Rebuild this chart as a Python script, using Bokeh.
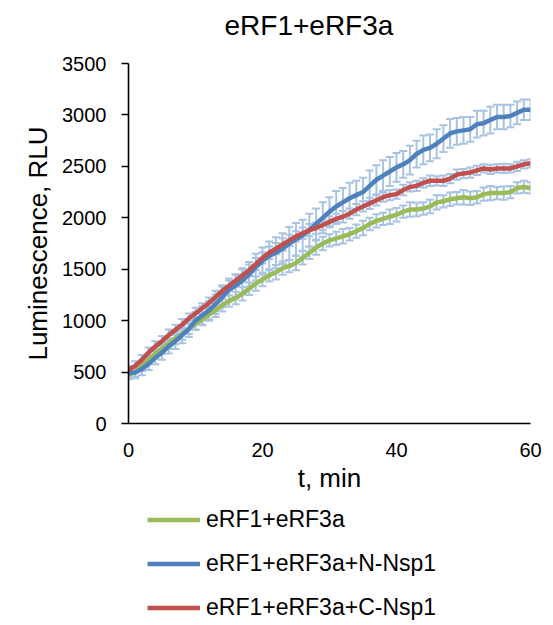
from bokeh.plotting import figure
from bokeh.layouts import column
from bokeh.models import (ColumnDataSource, Whisker, TeeHead, Legend, LegendItem,
                          Range1d, FixedTicker)
from bokeh.embed import file_html
from bokeh.resources import INLINE

# ---- data ----
t_min = list(range(0, 61))

erf_only = [470, 500, 560, 620, 680, 730, 780, 830, 870, 920,
            970, 1010, 1060, 1100, 1150, 1190, 1220, 1260, 1310, 1360,
            1400, 1440, 1470, 1510, 1530, 1560, 1610, 1660, 1710, 1750,
            1780, 1800, 1820, 1840, 1870, 1900, 1940, 1970, 1990, 2010,
            2030, 2060, 2080, 2080, 2090, 2110, 2150, 2160, 2180, 2190,
            2200, 2190, 2200, 2230, 2240, 2240, 2240, 2250, 2290, 2300,
            2290]

erf_n_nsp1 = [490, 495, 530, 580, 640, 690, 750, 800, 860, 920,
              1000, 1050, 1100, 1160, 1230, 1300, 1340, 1390, 1450, 1520,
              1580, 1630, 1660, 1700, 1750, 1790, 1830, 1880, 1940, 2000,
              2060, 2110, 2150, 2190, 2220, 2250, 2310, 2370, 2410, 2450,
              2490, 2520, 2560, 2620, 2660, 2680, 2720, 2770, 2820, 2840,
              2850, 2860, 2910, 2920, 2950, 2980, 2980, 2990, 3020, 3050,
              3050]

erf_c_nsp1 = [520, 560, 620, 690, 750, 800, 860, 910, 960, 1020,
              1070, 1120, 1170, 1230, 1290, 1340, 1390, 1440, 1490, 1550,
              1610, 1660, 1700, 1740, 1780, 1820, 1850, 1880, 1900, 1930,
              1960, 1990, 2010, 2040, 2080, 2110, 2140, 2170, 2200, 2220,
              2230, 2270, 2300, 2310, 2340, 2360, 2360, 2360, 2380, 2420,
              2430, 2440, 2460, 2480, 2470, 2480, 2480, 2480, 2500, 2520,
              2530]

err_erf_only = [40, 45, 50, 45, 50, 55, 50, 60, 55, 50,
                60, 55, 60, 65, 60, 55, 60, 65, 60, 70,
                65, 60, 70, 65, 60, 70, 65, 60, 70, 65,
                60, 65, 70, 60, 65, 70, 60, 65, 60, 70,
                65, 60, 70, 65, 60, 65, 70, 60, 65, 60,
                70, 65, 60, 65, 70, 60, 65, 60, 55, 60,
                55]

err_n_nsp1 = [50, 55, 60, 60, 65, 70, 70, 75, 80, 80,
              85, 90, 90, 95, 100, 110, 110, 120, 120, 130,
              130, 140, 150, 150, 160, 160, 150, 160, 150, 150,
              140, 150, 140, 150, 140, 140, 150, 140, 150, 140,
              140, 130, 140, 130, 140, 130, 140, 130, 140, 130,
              130, 120, 130, 120, 130, 120, 120, 110, 110, 100,
              100]

err_c_nsp1 = [40, 45, 45, 50, 50, 50, 55, 50, 55, 50,
              55, 50, 55, 60, 55, 50, 55, 60, 55, 60,
              55, 60, 55, 60, 55, 50, 55, 60, 55, 50,
              55, 50, 55, 50, 55, 50, 55, 50, 45, 50,
              45, 50, 45, 50, 45, 50, 45, 50, 45, 50,
              45, 50, 45, 40, 45, 40, 45, 40, 45, 40,
              40]

series_names = ["eRF1+eRF3a", "eRF1+eRF3a+N-Nsp1", "eRF1+eRF3a+C-Nsp1"]
series_vals = [erf_only, erf_n_nsp1, erf_c_nsp1]
series_errs = [err_erf_only, err_n_nsp1, err_c_nsp1]
series_colors = ["#9bbb59", "#4f81bd", "#c0504d"]
err_color = "#a9c3e4"

y_ticks = [0, 500, 1000, 1500, 2000, 2500, 3000, 3500]
x_ticks = [0, 20, 40, 60]

FONT = "Liberation Sans"
TITLE_H = 50
MAIN_H = 497 - TITLE_H
LEG_H = 625 - TITLE_H - MAIN_H


def bare(fig):
    fig.outline_line_color = None
    fig.xgrid.grid_line_color = None
    fig.ygrid.grid_line_color = None
    fig.background_fill_color = "white"
    fig.border_fill_color = "white"


# ---- title strip ----
pt = figure(width=553, height=TITLE_H, output_backend="svg", toolbar_location=None,
            x_range=Range1d(0, 1), y_range=Range1d(0, 1),
            x_axis_location=None, y_axis_location=None,
            min_border_left=128, min_border_right=23, min_border_top=0,
            min_border_bottom=0, title="eRF1+eRF3a")
bare(pt)
pt.title.text_font = FONT
pt.title.text_font_size = "28px"
pt.title.text_font_style = "normal"
pt.title.align = "left"
pt.title.offset = 96
pt.title.standoff = 14
pt.title.text_color = "black"

# ---- main chart ----
p = figure(width=553, height=MAIN_H, output_backend="svg", toolbar_location=None,
           x_range=Range1d(0, 60), y_range=Range1d(0, 3500),
           min_border_left=128, min_border_right=23, min_border_top=63 - TITLE_H,
           min_border_bottom=497 - 423,
           x_axis_label="t, min", y_axis_label="Luminescence, RLU")
bare(p)

for ax in (p.xaxis[0], p.yaxis[0]):
    ax.axis_line_color = "black"
    ax.axis_line_width = 1.6
    ax.major_tick_line_color = "black"
    ax.major_tick_line_width = 1.6
    ax.minor_tick_line_color = None
    ax.major_label_text_font = FONT
    ax.major_label_text_font_size = "20px"
    ax.major_label_text_color = "black"
    ax.axis_label_text_font = FONT
    ax.axis_label_text_font_size = "26px"
    ax.axis_label_text_font_style = "normal"
    ax.axis_label_text_color = "black"

p.xaxis.ticker = FixedTicker(ticks=x_ticks)
p.yaxis.ticker = FixedTicker(ticks=y_ticks)
p.xaxis.major_tick_out = 0
p.xaxis.major_tick_in = 0
p.xaxis.major_label_standoff = 19
p.xaxis.axis_label_standoff = 3
p.yaxis.major_tick_out = 7
p.yaxis.major_tick_in = 0
p.yaxis.major_label_standoff = 15
p.yaxis.axis_label_standoff = 6

# error bars first (behind lines)
for vals, errs in zip(series_vals, series_errs):
    src = ColumnDataSource(dict(
        t=t_min,
        upper=[v + e for v, e in zip(vals, errs)],
        lower=[v - e for v, e in zip(vals, errs)],
    ))
    w = Whisker(source=src, base="t", upper="upper", lower="lower",
                line_color=err_color, line_width=2,
                upper_head=TeeHead(size=8, line_color=err_color, line_width=2),
                lower_head=TeeHead(size=8, line_color=err_color, line_width=2))
    p.add_layout(w)

for vals, col in zip(series_vals, series_colors):
    src = ColumnDataSource(dict(t=t_min, v=vals))
    p.line("t", "v", source=src, line_color=col, line_width=4.5,
           line_join="round")

# ---- legend strip below the chart ----
p2 = figure(width=553, height=LEG_H, output_backend="svg", toolbar_location=None,
            x_range=Range1d(0, 1), y_range=Range1d(0, 1),
            x_axis_location=None, y_axis_location=None,
            min_border=0, min_border_left=0, min_border_right=0,
            min_border_top=0, min_border_bottom=0)
bare(p2)

items = []
for name, vals, col in zip(series_names, series_vals, series_colors):
    # same series; it lies outside this strip's range, only its legend swatch shows
    r = p2.line(t_min, vals, line_color=col, line_width=4.5)
    items.append(LegendItem(label=name, renderers=[r]))

legend = Legend(items=items, location=(19, 4), orientation="vertical")
legend.border_line_color = None
legend.background_fill_alpha = 0
legend.padding = 0
legend.margin = 0
legend.spacing = 17
legend.glyph_width = 53
legend.glyph_height = 27
legend.label_height = 27
legend.label_standoff = 6
legend.label_text_font = FONT
legend.label_text_font_size = "23px"
legend.label_text_color = "black"
p2.add_layout(legend)

layout = column(pt, p, p2, spacing=0)
open("out.html", "w").write(file_html(layout, INLINE))
